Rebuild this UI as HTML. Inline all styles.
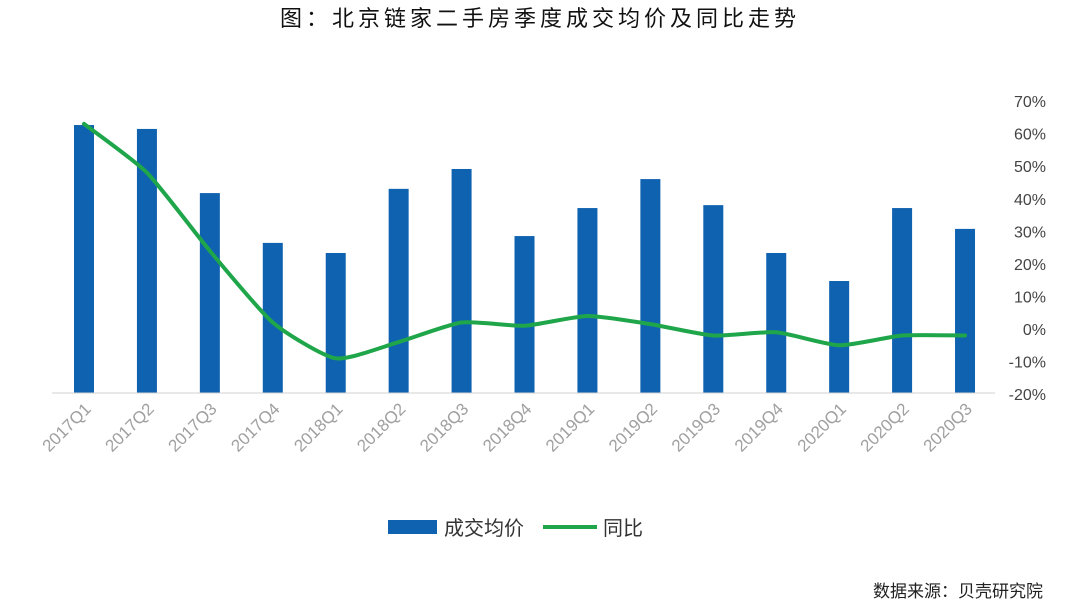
<!DOCTYPE html>
<html><head><meta charset="utf-8">
<style>
body{margin:0;background:#fff;font-family:"Liberation Sans","Noto Sans CJK SC",sans-serif;}
#wrap{position:relative;width:1080px;height:608px;overflow:hidden;}
</style></head>
<body>
<div id="wrap">
<svg id="chart" width="1080" height="608">
<text x="540" y="26" text-anchor="middle" font-size="22" fill="#111" letter-spacing="4" font-family="Liberation Sans, Noto Sans CJK SC, sans-serif">图：北京链家二手房季度成交均价及同比走势</text>
<g id="bars"></g>
<g id="xlabels"></g>
<g id="ylabels"></g>
<line x1="52" y1="393" x2="995" y2="393" stroke="#d0d0d0" stroke-width="1"/>
<path id="yoy" fill="none" stroke="#1fa64a" stroke-width="4" stroke-linejoin="round" stroke-linecap="round"/>
<g>
<rect x="388" y="520" width="49" height="14" fill="#0f62b0"/>
<text x="444" y="535" font-size="20" fill="#333" font-family="Liberation Sans, Noto Sans CJK SC, sans-serif">成交均价</text>
<line x1="543" y1="527" x2="597" y2="527" stroke="#1fa64a" stroke-width="4"/>
<text x="603" y="535" font-size="20" fill="#333" font-family="Liberation Sans, Noto Sans CJK SC, sans-serif">同比</text>
</g>
<text x="1043" y="597" text-anchor="end" font-size="17" fill="#222" font-family="Liberation Sans, Noto Sans CJK SC, sans-serif">数据来源：贝壳研究院</text>
</svg>
</div>
<script>
const categories=["2017Q1","2017Q2","2017Q3","2017Q4","2018Q1","2018Q2","2018Q3","2018Q4","2019Q1","2019Q2","2019Q3","2019Q4","2020Q1","2020Q2","2020Q3"];
const priceValues=[82.3,81.1,61.4,46.1,43.0,62.7,68.8,48.2,56.8,65.7,57.7,43.0,34.4,56.8,50.4];
const yoyValues=[63,48,24,2,-9,-4,2,1,4,1.5,-2,-1,-5,-2,-2];
const yTicks=[70,60,50,40,30,20,10,0,-10,-20];
const NS="http://www.w3.org/2000/svg";
const x=i=>84+i*62.93;
const yR=v=>329-v*3.256;
const yB=v=>393-v*3.256;
const bars=document.getElementById('bars'),xl=document.getElementById('xlabels'),yl=document.getElementById('ylabels');
categories.forEach((c,i)=>{
  const r=document.createElementNS(NS,'rect');
  r.setAttribute('x',x(i)-10);r.setAttribute('y',yB(priceValues[i]));
  r.setAttribute('width',20);r.setAttribute('height',393-yB(priceValues[i]));
  r.setAttribute('fill','#0f62b0');
  
  
  bars.appendChild(r);
  const t=document.createElementNS(NS,'text');
  t.setAttribute('x',x(i)+8);t.setAttribute('y',410);
  t.setAttribute('text-anchor','end');t.setAttribute('font-size','17');t.setAttribute('fill','#a0a0a0');
  t.setAttribute('transform','rotate(-45 '+(x(i)+8)+' 410)');
  t.textContent=c;
  
  
  xl.appendChild(t);
});
yTicks.forEach(v=>{
  const t=document.createElementNS(NS,'text');
  t.setAttribute('x',1046);t.setAttribute('y',yR(v)+6);
  t.setAttribute('text-anchor','end');t.setAttribute('font-size','16');t.setAttribute('fill','#444');
  t.textContent=v+'%';
  
  
  yl.appendChild(t);
});
const pts=yoyValues.map((v,i)=>[x(i),yR(v)]);
let d='M'+pts[0][0]+','+pts[0][1];
for(let i=0;i<pts.length-1;i++){
  const p0=pts[Math.max(0,i-1)],p1=pts[i],p2=pts[i+1],p3=pts[Math.min(pts.length-1,i+2)];
  const t=0.1;
  const c1=[p1[0]+(p2[0]-p0[0])*t,p1[1]+(p2[1]-p0[1])*t];
  const c2=[p2[0]-(p3[0]-p1[0])*t,p2[1]-(p3[1]-p1[1])*t];
  d+=' C'+c1+' '+c2+' '+p2;
}
document.getElementById('yoy').setAttribute('d',d);
</script>
</body></html>
